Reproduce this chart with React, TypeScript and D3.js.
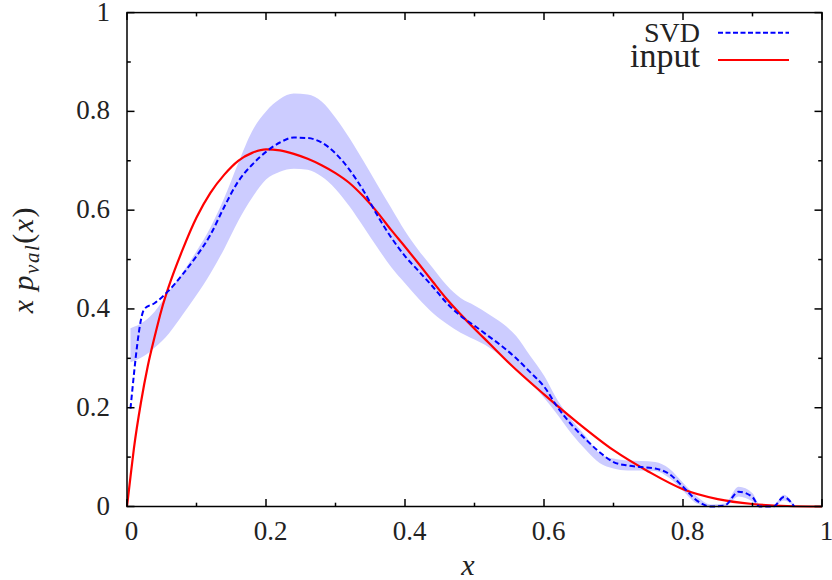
import { useEffect, useRef } from 'react';
import * as d3 from 'd3';

// SVD result and its error band
const svdX = [0.005, 0.025, 0.04, 0.06, 0.08, 0.10, 0.12, 0.14, 0.16, 0.18, 0.20, 0.22, 0.24, 0.26, 0.28, 0.30, 0.32, 0.34, 0.36, 0.38, 0.40, 0.42, 0.44, 0.46, 0.48, 0.50, 0.52, 0.54, 0.56, 0.58, 0.60, 0.62, 0.64, 0.66, 0.68, 0.70, 0.72, 0.74, 0.76, 0.78, 0.80, 0.82, 0.84, 0.86, 0.88, 0.90, 0.91, 0.93, 0.945, 0.96];
const svdY = [0.198, 0.400, 0.412, 0.437, 0.470, 0.507, 0.550, 0.607, 0.658, 0.692, 0.718, 0.737, 0.747, 0.746, 0.737, 0.715, 0.682, 0.640, 0.590, 0.545, 0.507, 0.476, 0.445, 0.412, 0.386, 0.366, 0.345, 0.324, 0.300, 0.272, 0.243, 0.200, 0.165, 0.136, 0.110, 0.090, 0.083, 0.080, 0.077, 0.066, 0.040, 0.012, 0.000, 0.002, 0.030, 0.019, 0.000, 0.000, 0.019, 0.000];
const bandLow = [0.292, 0.305, 0.322, 0.350, 0.388, 0.428, 0.472, 0.522, 0.578, 0.625, 0.662, 0.678, 0.684, 0.682, 0.668, 0.643, 0.608, 0.567, 0.525, 0.485, 0.452, 0.420, 0.392, 0.370, 0.352, 0.338, 0.323, 0.303, 0.280, 0.252, 0.220, 0.185, 0.147, 0.115, 0.088, 0.077, 0.073, 0.073, 0.072, 0.058, 0.032, 0.006, 0.000, 0.000, 0.020, 0.010, 0.000, 0.000, 0.012, 0.000];
const bandHigh = [0.361, 0.375, 0.395, 0.435, 0.474, 0.517, 0.565, 0.625, 0.695, 0.760, 0.800, 0.825, 0.836, 0.834, 0.820, 0.787, 0.746, 0.700, 0.652, 0.605, 0.558, 0.518, 0.483, 0.448, 0.422, 0.407, 0.390, 0.371, 0.345, 0.305, 0.265, 0.214, 0.175, 0.142, 0.107, 0.097, 0.093, 0.092, 0.090, 0.077, 0.048, 0.020, 0.004, 0.006, 0.040, 0.027, 0.005, 0.003, 0.024, 0.003];

// input distribution
const inputX = [0, 0.005, 0.01, 0.02, 0.03, 0.04, 0.05, 0.06, 0.08, 0.10, 0.12, 0.14, 0.16, 0.18, 0.20, 0.22, 0.24, 0.26, 0.28, 0.30, 0.32, 0.34, 0.36, 0.38, 0.40, 0.42, 0.44, 0.46, 0.48, 0.50, 0.52, 0.55, 0.60, 0.65, 0.70, 0.75, 0.80, 0.85, 0.90, 0.95, 1.0];
const inputY = [0, 0.06, 0.118, 0.21, 0.285, 0.345, 0.40, 0.445, 0.52, 0.585, 0.635, 0.672, 0.70, 0.716, 0.723, 0.721, 0.714, 0.704, 0.691, 0.675, 0.655, 0.628, 0.596, 0.560, 0.526, 0.491, 0.455, 0.420, 0.389, 0.36, 0.332, 0.29, 0.227, 0.168, 0.114, 0.071, 0.035, 0.015, 0.005, 0.001, 0];

const xTicks = [0, 0.2, 0.4, 0.6, 0.8, 1];
const yTicks = [0, 0.2, 0.4, 0.6, 0.8, 1];
const minorTicks = [0.1, 0.3, 0.5, 0.7, 0.9];

const FONT = '"Liberation Serif", "DejaVu Serif", serif';

const App = () => {
  const ref = useRef<SVGSVGElement | null>(null);

  useEffect(() => {
    if (!ref.current) return;
    const svg = d3.select(ref.current);
    svg.selectAll('*').remove();

    const left = 127, right = 822, top = 12.6, bottom = 506.5;
    const x = d3.scaleLinear().domain([0, 1]).range([left, right]);
    const y = d3.scaleLinear().domain([0, 1]).range([bottom, top]);

    const band = svdX.map((v, i) => ({ x: v, lo: bandLow[i], hi: bandHigh[i] }));
    const svd = svdX.map((v, i) => ({ x: v, y: svdY[i] }));
    const input = inputX.map((v, i) => ({ x: v, y: inputY[i] }));

    svg.append('path')
      .datum(band)
      .attr('fill', '#ccccff')
      .attr('d', d3.area<{ x: number; lo: number; hi: number }>()
        .x(d => x(d.x)).y0(d => y(d.lo)).y1(d => y(d.hi))
        .curve(d3.curveMonotoneX));

    svg.append('path')
      .datum(input)
      .attr('fill', 'none')
      .attr('stroke', '#ff0000')
      .attr('stroke-width', 2.2)
      .attr('d', d3.line<{ x: number; y: number }>()
        .x(d => x(d.x)).y(d => y(d.y)).curve(d3.curveMonotoneX));

    svg.append('path')
      .datum(svd)
      .attr('fill', 'none')
      .attr('stroke', '#0000ff')
      .attr('stroke-width', 2)
      .attr('stroke-dasharray', '5.5,3')
      .attr('d', d3.line<{ x: number; y: number }>()
        .x(d => x(d.x)).y(d => y(d.y)).curve(d3.curveMonotoneX));

    // frame with inward ticks on all sides
    const axes = svg.append('g').attr('stroke', '#000').attr('stroke-width', 1.5);
    axes.append('rect')
      .attr('x', left).attr('y', top)
      .attr('width', right - left).attr('height', bottom - top)
      .attr('fill', 'none');

    const tick = (v: number, len: number) => {
      axes.append('line').attr('x1', x(v)).attr('x2', x(v)).attr('y1', bottom).attr('y2', bottom - len);
      axes.append('line').attr('x1', x(v)).attr('x2', x(v)).attr('y1', top).attr('y2', top + len);
      axes.append('line').attr('y1', y(v)).attr('y2', y(v)).attr('x1', left).attr('x2', left + len);
      axes.append('line').attr('y1', y(v)).attr('y2', y(v)).attr('x1', right).attr('x2', right - len);
    };
    xTicks.forEach(v => tick(v, 7.5));
    minorTicks.forEach(v => tick(v, 3.8));

    const labels = svg.append('g')
      .style('font-family', FONT)
      .style('font-size', '27px')
      .attr('fill', '#222');

    xTicks.forEach(v => {
      labels.append('text')
        .attr('x', x(v) + 4.5)
        .attr('y', 540)
        .attr('text-anchor', 'middle')
        .text(String(v));
    });
    yTicks.forEach(v => {
      labels.append('text')
        .attr('x', 110)
        .attr('y', y(v) + 8)
        .attr('text-anchor', 'end')
        .text(String(v));
    });

    // axis titles
    svg.append('text')
      .attr('x', 468)
      .attr('y', 575)
      .attr('text-anchor', 'middle')
      .style('font-family', FONT)
      .style('font-style', 'italic')
      .style('font-size', '30px')
      .attr('fill', '#222')
      .text('x');

    const yl = svg.append('text')
      .attr('transform', `translate(33, ${(top + bottom) / 2}) rotate(-90)`)
      .attr('text-anchor', 'middle')
      .style('font-family', FONT)
      .style('font-size', '30px')
      .style('letter-spacing', '1.5px')
      .attr('fill', '#222');
    yl.append('tspan').style('font-style', 'italic').text('x');
    yl.append('tspan').attr('dx', 8).style('font-style', 'italic').text('p');
    yl.append('tspan').attr('dy', 6).style('font-size', '21px').style('font-style', 'italic').text('val');
    yl.append('tspan').attr('dy', -6).text('(');
    yl.append('tspan').style('font-style', 'italic').text('x');
    yl.append('tspan').text(')');

    // legend
    const legend = svg.append('g').style('font-family', FONT).attr('fill', '#222');
    legend.append('text')
      .attr('x', 700).attr('y', 42)
      .attr('text-anchor', 'end')
      .style('font-size', '28px')
      .text('SVD');
    legend.append('line')
      .attr('x1', 718).attr('x2', 789).attr('y1', 32.7).attr('y2', 32.7)
      .attr('stroke', '#0000ff').attr('stroke-width', 2).attr('stroke-dasharray', '5,2.5');
    legend.append('text')
      .attr('x', 700).attr('y', 67)
      .attr('text-anchor', 'end')
      .style('font-size', '34px')
      .text('input');
    legend.append('line')
      .attr('x1', 718).attr('x2', 789).attr('y1', 60).attr('y2', 60)
      .attr('stroke', '#ff0000').attr('stroke-width', 2.2);
  }, []);

  return (
    <svg
      ref={ref}
      width={832}
      height={580}
      style={{ position: 'absolute', left: 0, top: 0, background: '#fff' }}
    />
  );
};

export default App;
